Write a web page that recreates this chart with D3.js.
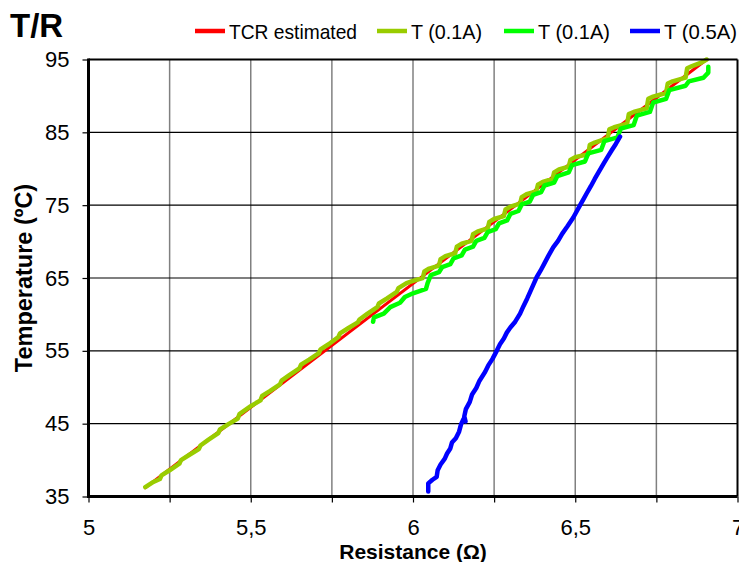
<!DOCTYPE html>
<html>
<head>
<meta charset="utf-8">
<script src="https://cdn.jsdelivr.net/npm/d3@7"></script>
<style>
  body { margin: 0; background: #fff; }
  svg { font-family: "Liberation Sans", Arial, sans-serif; }
</style>
</head>
<body>
<svg id="chart"></svg>
<script>
const width = 739, height = 562;
const margin = { top: 59.5, right: 1.5, bottom: 65.5, left: 88.5 };

const seriesNames = ["TCR estimated", "T (0.1A)", "T (0.1A)", "T (0.5A)"];
const seriesColors = ["#ff0000", "#99cc00", "#00ff00", "#0000ff"];

const xTicks = [5, 5.25, 5.5, 5.75, 6, 6.25, 6.5, 6.75, 7];
const yTicks = [35, 45, 55, 65, 75, 85, 95];

// [resistance, temperature]
const tcrEstimated = [[5.175, 36.2], [6.905, 95.0]];

const t01a = [
  [5.175, 36.3], [5.20, 37.0], [5.22, 37.4], [5.225, 37.9], [5.25, 38.6], [5.28, 39.5], [5.285, 40.0],
  [5.31, 40.7], [5.34, 41.5], [5.345, 42.0], [5.37, 42.8], [5.40, 43.7], [5.405, 44.2], [5.43, 44.9],
  [5.46, 45.7], [5.465, 46.3], [5.50, 47.4], [5.53, 48.2], [5.535, 48.8], [5.56, 49.5], [5.59, 50.4],
  [5.595, 50.9], [5.62, 51.7], [5.65, 52.6], [5.655, 53.1], [5.68, 53.8], [5.71, 54.7], [5.715, 55.2],
  [5.74, 55.9], [5.77, 56.9], [5.775, 57.4], [5.80, 58.1], [5.83, 58.9], [5.835, 59.3], [5.86, 60.1],
  [5.89, 61.0], [5.895, 61.5], [5.92, 62.2], [5.95, 63.1], [5.955, 63.6], [5.98, 64.3],
  [6.00, 64.6], [6.03, 65.0], [6.035, 65.9], [6.05, 66.3], [6.08, 66.7], [6.085, 67.6], [6.10, 68.0],
  [6.13, 68.4], [6.135, 69.3], [6.15, 69.7], [6.18, 70.1], [6.185, 71.0], [6.20, 71.4], [6.23, 71.8],
  [6.235, 72.7], [6.25, 73.1], [6.28, 73.5], [6.285, 74.4], [6.30, 74.8], [6.33, 75.2], [6.335, 76.1],
  [6.35, 76.5], [6.38, 76.9], [6.385, 77.8], [6.40, 78.2], [6.43, 78.6], [6.435, 79.5], [6.45, 79.9],
  [6.48, 80.3], [6.485, 81.2], [6.50, 81.6], [6.54, 82.0], [6.545, 83.3], [6.56, 83.6], [6.60, 84.2],
  [6.605, 85.4], [6.62, 85.7], [6.66, 86.2], [6.665, 87.5], [6.68, 87.8], [6.72, 88.3], [6.725, 89.6],
  [6.74, 89.9], [6.78, 90.4], [6.785, 91.7], [6.80, 92.0], [6.84, 92.5], [6.845, 93.8], [6.86, 94.1],
  [6.89, 94.6], [6.905, 95.0]
];

const t01b = [
  [5.877, 59.0], [5.88, 59.6], [5.91, 60.1], [5.93, 61.0], [5.96, 61.6], [5.975, 62.4], [6.00, 62.9],
  [6.04, 63.5], [6.045, 64.3], [6.055, 65.4], [6.08, 65.8], [6.09, 66.5], [6.115, 66.9], [6.125, 67.7],
  [6.15, 68.1], [6.16, 68.9], [6.185, 69.3], [6.195, 70.1], [6.22, 70.5], [6.23, 71.3], [6.255, 71.7],
  [6.265, 72.5], [6.29, 72.9], [6.30, 73.8], [6.325, 74.2], [6.335, 75.1], [6.36, 75.5], [6.37, 76.4],
  [6.395, 76.8], [6.405, 77.7], [6.435, 78.1], [6.445, 79.0], [6.48, 79.5], [6.49, 80.5], [6.53, 81.0],
  [6.54, 82.1], [6.58, 82.6], [6.59, 83.8], [6.63, 84.3], [6.64, 85.5], [6.68, 86.0], [6.69, 87.3],
  [6.73, 87.8], [6.74, 89.1], [6.78, 89.6], [6.79, 90.8], [6.84, 91.4], [6.85, 92.0], [6.895, 92.5],
  [6.91, 93.2], [6.91, 94.0]
];

const t05a = [
  [6.047, 35.7], [6.047, 36.8], [6.06, 37.3], [6.073, 37.7], [6.076, 38.6], [6.085, 39.4], [6.098, 40.2],
  [6.105, 40.9], [6.115, 41.6], [6.12, 42.4], [6.132, 43.0], [6.142, 43.9], [6.148, 44.9], [6.155, 45.6],
  [6.162, 45.3], [6.158, 46.0], [6.163, 47.0], [6.175, 48.0], [6.182, 49.0], [6.195, 49.9], [6.205, 50.9],
  [6.222, 52.1], [6.232, 53.0], [6.245, 53.9], [6.258, 55.0], [6.268, 55.9], [6.28, 56.7], [6.289, 57.5],
  [6.30, 58.2], [6.315, 59.0], [6.33, 60.1], [6.34, 61.1], [6.352, 62.2], [6.362, 63.2], [6.372, 64.2],
  [6.381, 65.1], [6.393, 66.0], [6.405, 67.0], [6.418, 68.1], [6.432, 69.2], [6.447, 70.1], [6.46, 71.1],
  [6.476, 72.1], [6.494, 73.3], [6.505, 74.2], [6.515, 75.0], [6.525, 75.8], [6.535, 76.6], [6.548, 77.6],
  [6.56, 78.6], [6.573, 79.6], [6.586, 80.6], [6.598, 81.5], [6.612, 82.5], [6.625, 83.4], [6.638, 84.4]
];

const seriesData = [tcrEstimated, t01a, t01b, t05a];
const seriesWidths = [3, 4.5, 4.5, 4.5];

const svg = d3.select("#chart").attr("width", width).attr("height", height);

const x = d3.scaleLinear().domain([5, 7]).range([margin.left, width - margin.right]);
const y = d3.scaleLinear().domain([35, 95]).range([height - margin.bottom, margin.top]);

// Grid lines
svg.append("g")
  .selectAll("line")
  .data(xTicks.slice(1, -1))
  .join("line")
  .attr("x1", d => x(d)).attr("x2", d => x(d))
  .attr("y1", y(35)).attr("y2", y(95))
  .attr("stroke", "#808080")
  .attr("stroke-width", 1.5);

svg.append("g")
  .selectAll("line")
  .data(yTicks.slice(1, -1))
  .join("line")
  .attr("x1", x(5)).attr("x2", x(7))
  .attr("y1", d => y(d)).attr("y2", d => y(d))
  .attr("stroke", "#000")
  .attr("stroke-width", 1.2);

// Axes
const fmt = d => (d % 0.5 === 0 ? String(d).replace(".", ",") : "");

const xAxis = svg.append("g")
  .attr("transform", `translate(0,${y(35)})`)
  .call(d3.axisBottom(x).tickValues(xTicks).tickFormat(fmt).tickSize(6).tickPadding(17));
xAxis.select(".domain").remove();
xAxis.selectAll(".tick line").attr("stroke", "#000").attr("stroke-width", 1.2);
xAxis.selectAll(".tick text").style("font-size", "22px").attr("fill", "#000");

const yAxis = svg.append("g")
  .attr("transform", `translate(${x(5)},0)`)
  .call(d3.axisLeft(y).tickValues(yTicks).tickSize(6).tickPadding(13));
yAxis.select(".domain").remove();
yAxis.selectAll(".tick line").attr("stroke", "#000").attr("stroke-width", 1.2);
yAxis.selectAll(".tick text").style("font-size", "22px").attr("fill", "#000");

// Series
const line = d3.line().x(d => x(d[0])).y(d => y(d[1]));
svg.append("g")
  .selectAll("path")
  .data(seriesData)
  .join("path")
  .attr("d", d => line(d))
  .attr("fill", "none")
  .attr("stroke", (d, i) => seriesColors[i])
  .attr("stroke-width", (d, i) => seriesWidths[i])
  .attr("stroke-linejoin", "round")
  .attr("stroke-linecap", "round");

// Plot frame
svg.append("line")
  .attr("x1", x(5)).attr("x2", x(7)).attr("y1", y(95)).attr("y2", y(95))
  .attr("stroke", "#000").attr("stroke-width", 2);
svg.append("line")
  .attr("x1", x(7)).attr("x2", x(7)).attr("y1", y(95)).attr("y2", y(35))
  .attr("stroke", "#000").attr("stroke-width", 2);
svg.append("line")
  .attr("x1", x(5)).attr("x2", x(7)).attr("y1", y(35)).attr("y2", y(35))
  .attr("stroke", "#000").attr("stroke-width", 3);
svg.append("line")
  .attr("x1", x(5)).attr("x2", x(5)).attr("y1", y(95) - 1).attr("y2", y(35) + 1.5)
  .attr("stroke", "#000").attr("stroke-width", 3);

// Titles
svg.append("text")
  .attr("x", 10).attr("y", 37)
  .style("font-size", "33px").style("font-weight", "bold")
  .text("T/R");

svg.append("text")
  .attr("x", x(6)).attr("y", 558.5)
  .attr("text-anchor", "middle")
  .style("font-size", "21px").style("font-weight", "bold")
  .text("Resistance (Ω)");

svg.append("text")
  .attr("transform", `translate(32,${(y(35) + y(95)) / 2}) rotate(-90)`)
  .attr("text-anchor", "middle")
  .style("font-size", "23.5px").style("font-weight", "bold")
  .text("Temperature (ºC)");

// Legend
const legendX = [195, 377, 504, 630];
const legendTextW = [128, 71, 72, 73];
const legend = svg.append("g");
seriesNames.forEach((name, i) => {
  legend.append("line")
    .attr("x1", legendX[i]).attr("x2", legendX[i] + 30)
    .attr("y1", 31).attr("y2", 31)
    .attr("stroke", seriesColors[i]).attr("stroke-width", 4.5);
  legend.append("text")
    .attr("x", legendX[i] + 34).attr("y", 38.5)
    .attr("textLength", legendTextW[i])
    .attr("lengthAdjust", "spacingAndGlyphs")
    .style("font-size", "21px")
    .text(name);
});
</script>
</body>
</html>
